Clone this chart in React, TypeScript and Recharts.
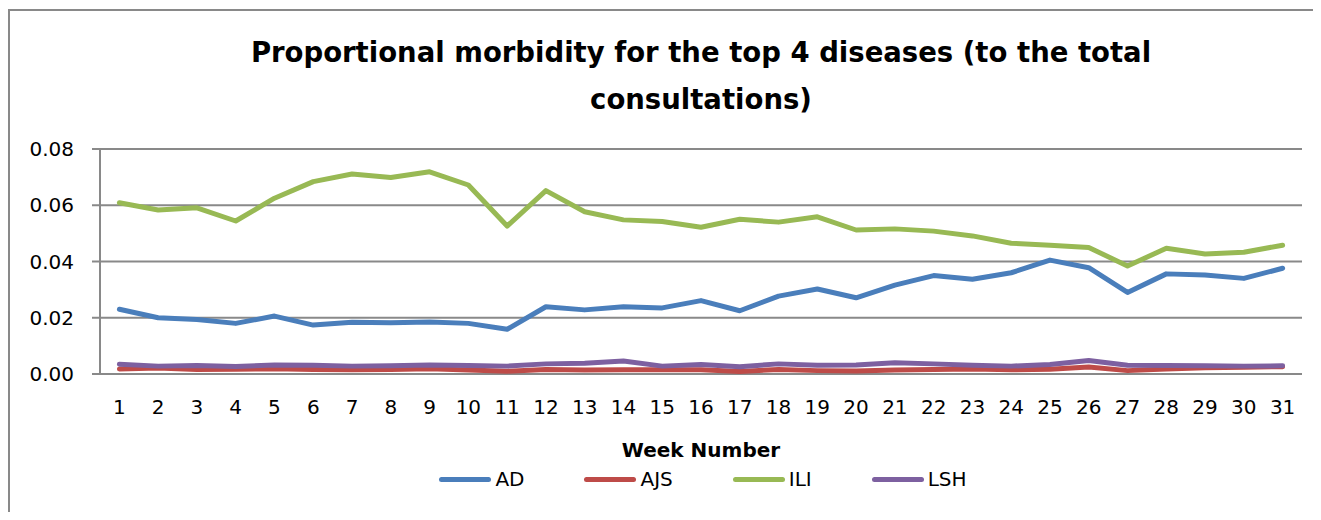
import React from "react";
import { CartesianGrid, Line, LineChart, XAxis, YAxis } from "recharts";

const weeks = [
  1, 2, 3, 4, 5, 6, 7, 8, 9, 10, 11, 12, 13, 14, 15, 16, 17, 18, 19, 20, 21, 22,
  23, 24, 25, 26, 27, 28, 29, 30, 31,
];

const ad = [
  0.023, 0.02, 0.0194, 0.018, 0.0206, 0.0174, 0.0184, 0.0182, 0.0185, 0.018,
  0.0159, 0.0239, 0.0228, 0.0239, 0.0235, 0.0261, 0.0225, 0.0277, 0.0302,
  0.0271, 0.0316, 0.035, 0.0337, 0.036, 0.0405, 0.0378, 0.029, 0.0356, 0.0352,
  0.034, 0.0376,
];

const ajs = [
  0.0018, 0.0021, 0.0016, 0.0017, 0.0019, 0.0016, 0.0015, 0.0016, 0.0019,
  0.0014, 0.001, 0.0016, 0.0014, 0.0015, 0.0015, 0.0015, 0.0009, 0.0016,
  0.0012, 0.0011, 0.0014, 0.0016, 0.0018, 0.0015, 0.0017, 0.0025, 0.0012,
  0.0018, 0.0022, 0.0024, 0.0026,
];

const ili = [
  0.0609, 0.0583, 0.0591, 0.0544, 0.0625, 0.0684, 0.0711, 0.0699, 0.0719,
  0.0672, 0.0526, 0.0652, 0.0577, 0.0548, 0.0542, 0.0522, 0.055, 0.054, 0.0559,
  0.0512, 0.0516, 0.0508, 0.0491, 0.0465, 0.0458, 0.045, 0.0384, 0.0447,
  0.0427, 0.0433, 0.0458,
];

const lsh = [
  0.0035, 0.0028, 0.003, 0.0027, 0.0032, 0.0031, 0.0028, 0.0029, 0.0032, 0.003,
  0.0028, 0.0036, 0.0038, 0.0046, 0.0028, 0.0034, 0.0026, 0.0036, 0.0031,
  0.0032, 0.004, 0.0036, 0.0031, 0.0028, 0.0034, 0.0048, 0.0031, 0.003, 0.0029,
  0.0028, 0.0029,
];

const yTicks = [0, 0.02, 0.04, 0.06, 0.08];
const boundaryTicks = [0, ...weeks].map((w) => w + 0.5);

const series = [
  { key: "AD", values: ad, color: "#4a7ebb" },
  { key: "AJS", values: ajs, color: "#be4b48" },
  { key: "ILI", values: ili, color: "#98b954" },
  { key: "LSH", values: lsh, color: "#7d60a0" },
];

// draw order: AJS under LSH, the rest on top
const drawOrder = ["AJS", "LSH", "AD", "ILI"];

const data = weeks.map((week, i) => {
  const row: Record<string, number> = { week };
  series.forEach((s) => (row[s.key] = s.values[i]));
  return row;
});

const FONT = "'DejaVu Sans', sans-serif";
const GRAY = "#898989";

export default function App() {
  return (
    <div
      style={{
        position: "relative",
        width: 1305,
        height: 504,
        overflow: "hidden",
        fontFamily: FONT,
      }}
    >
      <div
        style={{
          position: "absolute",
          left: 0,
          top: 1,
          width: 1400,
          height: 600,
          borderLeft: `2px solid ${GRAY}`,
          borderTop: `2px solid ${GRAY}`,
        }}
      />
      <div
        style={{
          position: "absolute",
          left: 0,
          width: 1386,
          top: 21,
          textAlign: "center",
          fontWeight: "bold",
          fontSize: 27.5,
          lineHeight: "47px",
          color: "#000",
        }}
      >
        <div>Proportional morbidity for the top 4 diseases (to the total</div>
        <div>consultations)</div>
      </div>
      <LineChart
        width={1305}
        height={504}
        data={data}
        margin={{ top: 141, right: 11, left: 0, bottom: 48 }}
        style={{ position: "absolute", left: 0, top: 0 }}
      >
        <CartesianGrid
          xAxisId="w"
          vertical={false}
          stroke={GRAY}
          strokeWidth={2}
        />
        <XAxis
          xAxisId="b"
          dataKey="week"
          type="number"
          domain={[0.5, 31.5]}
          ticks={boundaryTicks}
          tick={false}
          tickSize={8}
          height={0}
          axisLine={{ stroke: GRAY, strokeWidth: 2 }}
          tickLine={{ stroke: GRAY, strokeWidth: 2 }}
        />
        <XAxis
          xAxisId="w"
          dataKey="week"
          type="number"
          domain={[0.5, 31.5]}
          ticks={weeks}
          interval={0}
          height={90}
          tickSize={0}
          tickMargin={26}
          axisLine={false}
          tickLine={false}
          tick={{ fill: "#000", fontSize: 20, fontFamily: FONT }}
          label={({ viewBox }: any) => (
            <text
              x={viewBox.x + viewBox.width / 2}
              y={viewBox.y + 83}
              textAnchor="middle"
              fontWeight="bold"
              fontSize={20}
              fontFamily={FONT}
              fill="#000"
            >
              Week Number
            </text>
          )}
        />
        <YAxis
          domain={[0, 0.08]}
          ticks={yTicks}
          width={92}
          tickSize={8}
          tickMargin={18}
          tickFormatter={(v: number) => v.toFixed(2)}
          axisLine={{ stroke: GRAY, strokeWidth: 2 }}
          tickLine={{ stroke: GRAY, strokeWidth: 2 }}
          tick={{ fill: "#000", fontSize: 20, fontFamily: FONT }}
        />
        {drawOrder.map((k) => {
          const s = series.find((x) => x.key === k)!;
          return (
            <Line
              key={s.key}
              xAxisId="w"
              dataKey={s.key}
              stroke={s.color}
              strokeWidth={5}
              strokeLinecap="round"
              strokeLinejoin="round"
              dot={false}
              activeDot={false}
              isAnimationActive={false}
            />
          );
        })}
      </LineChart>
      <div
        style={{
          position: "absolute",
          left: 0,
          width: 1390,
          top: 458,
          display: "flex",
          justifyContent: "center",
          gap: 60,
          fontSize: 20,
          color: "#000",
          lineHeight: "26px",
        }}
      >
        {series.map((s) => (
          <div key={s.key} style={{ display: "flex", alignItems: "center" }}>
            <div
              style={{
                width: 52,
                height: 5,
                borderRadius: 3,
                background: s.color,
                marginRight: 4,
              }}
            />
            <span>{s.key}</span>
          </div>
        ))}
      </div>
    </div>
  );
}
